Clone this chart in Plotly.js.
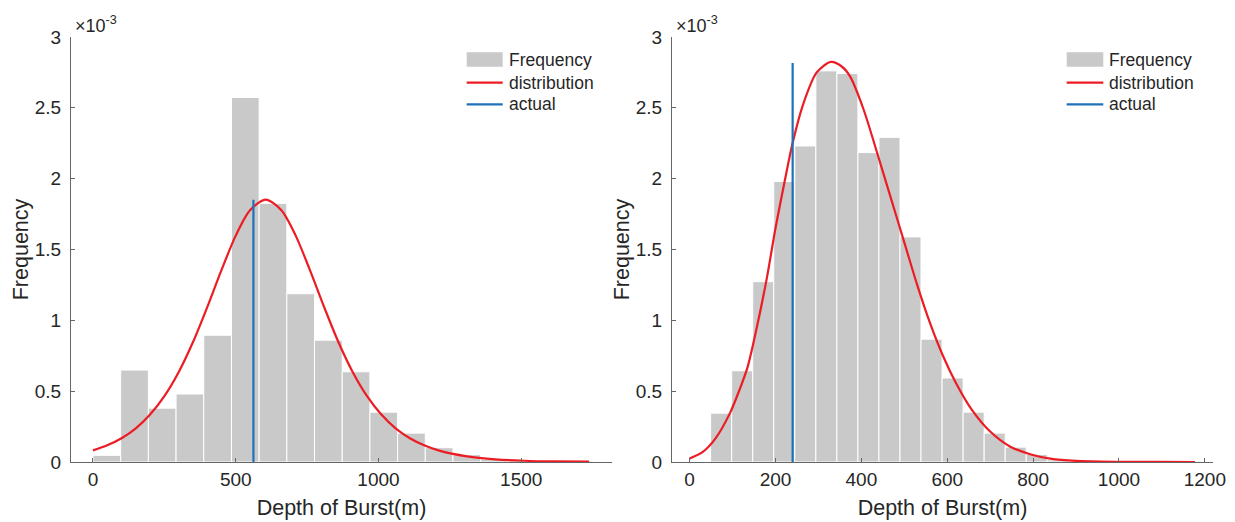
<!DOCTYPE html>
<html><head><meta charset="utf-8">
<script src="https://cdn.plot.ly/plotly-3.0.1.min.js"></script>
<style>html,body{margin:0;padding:0;background:#fff;} #chart{width:1235px;height:522px;}</style>
</head><body><div id="chart"></div>
<script>
// ---------- Left panel ----------
const leftBinStarts = [0, 97, 194, 291, 388, 485, 582, 679, 776, 873, 970, 1067, 1164, 1261, 1358, 1455];
const leftBinWidth = 97;
const leftDensity = [0.047e-3, 0.649e-3, 0.380e-3, 0.480e-3, 0.895e-3, 2.573e-3, 1.826e-3, 1.188e-3,
                     0.860e-3, 0.637e-3, 0.352e-3, 0.204e-3, 0.101e-3, 0.052e-3, 0.020e-3, 0.010e-3];
const leftCurveX = [0, 50, 100, 150, 200, 250, 300, 350, 400, 450, 500, 550, 605, 660, 710, 760, 810, 860,
                    910, 960, 1010, 1060, 1110, 1160, 1210, 1310, 1410, 1510, 1610, 1738];
const leftCurveY = [0.082e-3, 0.118e-3, 0.168e-3, 0.238e-3, 0.335e-3, 0.465e-3, 0.634e-3, 0.845e-3, 1.092e-3,
                    1.354e-3, 1.598e-3, 1.777e-3, 1.852e-3, 1.777e-3, 1.598e-3, 1.354e-3, 1.092e-3, 0.845e-3,
                    0.634e-3, 0.465e-3, 0.335e-3, 0.238e-3, 0.168e-3, 0.118e-3, 0.082e-3, 0.040e-3, 0.019e-3,
                    0.009e-3, 0.004e-3, 0.002e-3];
const leftActual = 562;
const leftActualTop = 1.852e-3;

// ---------- Right panel ----------
const rightBinStarts = [49, 98, 147, 196, 245, 294, 343, 392, 441, 490, 539, 588, 637, 686, 735, 784, 833];
const rightBinWidth = 49;
const rightDensity = [0.345e-3, 0.644e-3, 1.273e-3, 1.980e-3, 2.231e-3, 2.761e-3, 2.742e-3, 2.184e-3, 2.292e-3,
                      1.589e-3, 0.867e-3, 0.593e-3, 0.352e-3, 0.204e-3, 0.105e-3, 0.054e-3, 0.015e-3];
const rightCurveX = [0, 30, 60, 94, 115, 135, 158, 180, 200, 222, 239, 265, 296, 329, 355, 374, 405, 436, 470,
                     500, 530, 560, 590, 620, 657, 700, 746, 793, 840, 900, 1000, 1100, 1177];
const rightCurveY = [0.024e-3, 0.069e-3, 0.165e-3, 0.345e-3, 0.50e-3, 0.67e-3, 0.97e-3, 1.30e-3, 1.65e-3, 1.99e-3,
                     2.24e-3, 2.53e-3, 2.75e-3, 2.824e-3, 2.79e-3, 2.72e-3, 2.49e-3, 2.19e-3, 1.85e-3, 1.55e-3,
                     1.25e-3, 0.98e-3, 0.75e-3, 0.56e-3, 0.37e-3, 0.215e-3, 0.11e-3, 0.055e-3, 0.024e-3,
                     0.008e-3, 0.0015e-3, 0.0003e-3, 0];
const rightActual = 240;
const rightActualTop = 2.817e-3;

// ---------- Axis ticks ----------
const yTickVals = [0, 0.5e-3, 1e-3, 1.5e-3, 2e-3, 2.5e-3, 3e-3];
const yTickText = ['0', '0.5', '1', '1.5', '2', '2.5', '3'];
const leftXTicks = [0, 500, 1000, 1500];
const rightXTicks = [0, 200, 400, 600, 800, 1000, 1200];
const legendLabels = ['Frequency', 'distribution', 'actual'];

const BAR = '#c9c9c9', RED = '#ec1c24', BLUE = '#1f72b8', TXT = '#262626', AX = '#666666';
const FONT = 'Liberation Sans, Arial, Helvetica, sans-serif';

const W = 1235, H = 522, ML = 71, MR = 22, MT = 37, MB = 60;
const PW = W - ML - MR, PH = H - MT - MB;
const px = v => (v - ML) / PW;
const py = v => (H - MB - v) / PH;

const traces = [
  {type: 'bar', x: leftBinStarts, y: leftDensity, width: leftBinWidth, offset: 0, name: legendLabels[0],
   marker: {color: BAR, line: {color: '#ffffff', width: 1}}, xaxis: 'x', yaxis: 'y', showlegend: false},
  {type: 'scatter', mode: 'lines', x: leftCurveX, y: leftCurveY, name: legendLabels[1],
   line: {color: RED, width: 2.2, shape: 'spline', smoothing: 0.8}, xaxis: 'x', yaxis: 'y', showlegend: false},
  {type: 'scatter', mode: 'lines', x: [leftActual, leftActual], y: [0, leftActualTop], name: legendLabels[2],
   line: {color: BLUE, width: 2.2}, xaxis: 'x', yaxis: 'y', showlegend: false},
  {type: 'bar', x: rightBinStarts, y: rightDensity, width: rightBinWidth, offset: 0, name: legendLabels[0],
   marker: {color: BAR, line: {color: '#ffffff', width: 1}}, xaxis: 'x2', yaxis: 'y2', showlegend: false},
  {type: 'scatter', mode: 'lines', x: rightCurveX, y: rightCurveY, name: legendLabels[1],
   line: {color: RED, width: 2.2, shape: 'spline', smoothing: 0.8}, xaxis: 'x2', yaxis: 'y2', showlegend: false},
  {type: 'scatter', mode: 'lines', x: [rightActual, rightActual], y: [0, rightActualTop], name: legendLabels[2],
   line: {color: BLUE, width: 2.2}, xaxis: 'x2', yaxis: 'y2', showlegend: false}
];

function xAx(domain, range, ticks, anchor) {
  return {domain: domain, range: range, anchor: anchor, tickvals: ticks, ticktext: ticks.map(String),
    showline: true, linecolor: AX, linewidth: 1, ticks: 'inside', ticklen: 4, tickcolor: AX,
    showgrid: false, zeroline: false, tickfont: {family: FONT, size: 19, color: TXT},
    ticklabelstandoff: 0,
    title: {text: 'Depth of Burst(m)', font: {family: FONT, size: 21.5, color: TXT}, standoff: 11}};
}
function yAx(anchor) {
  return {domain: [0, 1], range: [0, 3e-3], anchor: anchor, tickvals: yTickVals, ticktext: yTickText,
    showline: true, linecolor: AX, linewidth: 1, ticks: 'inside', ticklen: 4, tickcolor: AX,
    showgrid: false, zeroline: false, tickfont: {family: FONT, size: 19, color: TXT},
    ticklabelstandoff: 5,
    title: {text: 'Frequency', font: {family: FONT, size: 21.5, color: TXT}, standoff: 0}};
}

const shapes = [], annotations = [];
function legendAt(patchX0, patchX1, textX) {
  shapes.push({type: 'rect', xref: 'paper', yref: 'paper', x0: px(patchX0), x1: px(patchX1),
    y0: py(66.7), y1: py(52.3), fillcolor: BAR, line: {width: 0}});
  shapes.push({type: 'line', xref: 'paper', yref: 'paper', x0: px(patchX0), x1: px(patchX1),
    y0: py(82.7), y1: py(82.7), line: {color: RED, width: 2.2}});
  shapes.push({type: 'line', xref: 'paper', yref: 'paper', x0: px(patchX0), x1: px(patchX1),
    y0: py(104.3), y1: py(104.3), line: {color: BLUE, width: 2.2}});
  [59.5, 82.5, 104.3].forEach((yy, i) => annotations.push({xref: 'paper', yref: 'paper',
    x: px(textX), y: py(yy), xanchor: 'left', yanchor: 'middle', showarrow: false,
    text: legendLabels[i], font: {family: FONT, size: 17.5, color: TXT}}));
}
legendAt(466.7, 502.7, 506.5);
legendAt(1066.7, 1103.3, 1106.5);

[73, 674].forEach(xx => annotations.push({xref: 'paper', yref: 'paper', x: px(xx), y: py(25),
  xanchor: 'left', yanchor: 'middle', showarrow: false, text: '×10<sup>-3</sup>',
  font: {family: FONT, size: 18, color: TXT}}));

const layout = {
  width: W, height: H, margin: {l: ML, r: MR, t: MT, b: MB}, paper_bgcolor: '#ffffff', plot_bgcolor: '#ffffff',
  showlegend: false, bargap: 0,
  xaxis: xAx([0, 541 / PW], [-77, 1818], leftXTicks, 'y'),
  yaxis: yAx('x'),
  xaxis2: xAx([601 / PW, 1], [-41, 1219], rightXTicks, 'y2'),
  yaxis2: yAx('x2'),
  shapes: shapes, annotations: annotations
};

Plotly.newPlot('chart', traces, layout, {staticPlot: true, displayModeBar: false});
</script></body></html>
